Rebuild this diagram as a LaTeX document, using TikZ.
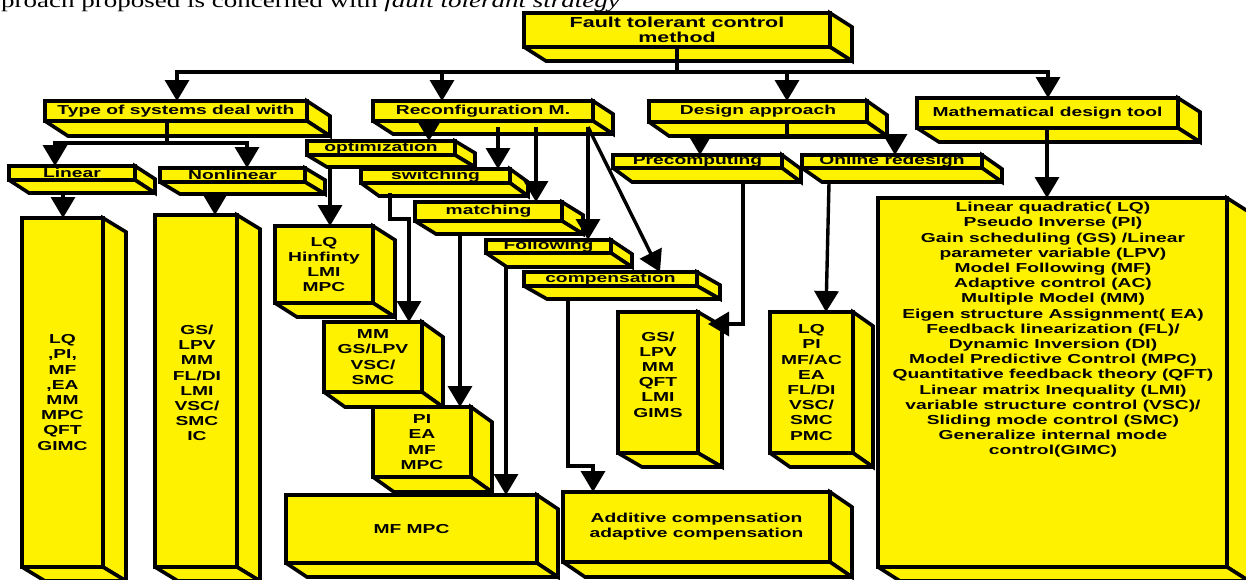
\documentclass[tikz,border=0pt]{standalone}
\usepackage{fontspec}
\usetikzlibrary{arrows.meta}
\newfontfamily\lblfont{Liberation Sans}[FakeStretch=1.48]
\newfontfamily\leadfont{Liberation Serif}[FakeStretch=1.35]
\newcommand\lbl{\lblfont\bfseries\fontsize{13}{15.2}\selectfont}
\newcommand\rootlbl{\lblfont\bfseries\fontsize{14.5}{17}\selectfont}

\tikzset{
  face/.style={draw=black, fill=yellow, line width=3.6pt, line join=miter, miter limit=3},
  front/.style={face, inner sep=0pt, outer sep=0pt, anchor=north west, align=center, font=\lbl},
  txt/.style={inner sep=0pt, align=center, font=\lbl},
  wire/.style={line width=3.4pt, line cap=rect},
  link/.style={line width=3.4pt, -{Triangle[width=24pt,length=21pt]}},
}

% slab: name, x, y, width, height, depth-x, depth-y, text
\newcommand\slab[8]{%
  \node[front, minimum width=#4pt, minimum height=#5pt] (#1) at (#2,#3) {#8};
  \draw[face] (#1.north east) -- ([shift={(#6,#7)}]#1.north east)
     -- ([shift={(#6,#7)}]#1.south east) -- (#1.south east) -- cycle;
  \draw[face] (#1.south west) -- (#1.south east)
     -- ([shift={(#6,#7)}]#1.south east) -- ([shift={(#6,#7)}]#1.south west) -- cycle;
}

\begin{document}
\begin{tikzpicture}[x=1pt,y=-1pt]
\useasboundingbox (0,0) rectangle (1246,579);

% running text line above the chart
\node[anchor=base west, inner sep=0pt, font=\leadfont\fontsize{20}{24}\selectfont] (lead)
  at (1,7.5) {proach proposed is concerned with \textit{fault tolerant strategy}};

% top level
\slab{ftc}{524}{13}{306}{34}{22}{14}{\rootlbl Fault tolerant control\\\rootlbl method}
\slab{types}{45}{101}{262}{20}{23}{15}{Type of systems deal with}
\slab{reconf}{373}{101}{220}{20}{20}{13}{Reconfiguration M.}
\slab{design}{649}{101}{218}{21}{20}{14}{Design approach}
\slab{math}{917}{98}{261}{30}{22}{14}{Mathematical design tool}

% second level
\slab{linear}{9}{166}{126}{14}{20}{13}{Linear}
\slab{nonlin}{160}{168}{145}{14}{20}{12}{Nonlinear}
\slab{optim}{307}{141}{148}{14}{20}{12}{optimization}
\slab{switch}{361}{169}{149}{14}{18}{13}{switching}
\slab{match}{415}{202}{147}{19}{21}{13}{matching}
\slab{follow}{486}{240}{125}{13}{21}{14}{Following}
\slab{comp}{524}{272}{173}{14}{23}{13}{compensation}
\slab{precomp}{613}{155}{169}{13}{19}{14}{Precomputing}
\slab{online}{802}{155}{180}{13}{20}{14}{Online redesign}

% method lists
\slab{linbig}{22}{218}{81}{349}{23}{14}{LQ\\,PI,\\MF\\,EA\\MM\\MPC\\QFT\\GIMC}
\slab{nonbig}{155}{215}{82}{352}{23}{14}{}
\node[txt] (nontext) at (197,383) {GS/\\LPV\\MM\\FL/DI\\LMI\\VSC/\\SMC\\IC};
\slab{lqh}{275}{226}{98}{77}{22}{14}{LQ\\Hinfinty\\LMI\\MPC}
\slab{mmb}{324}{322}{98}{70}{21}{15}{MM\\GS/LPV\\VSC/\\SMC}
\slab{pib}{373}{407}{98}{70}{21}{15}{PI\\EA\\MF\\MPC}
\slab{mfmpc}{286}{495}{251}{68}{21}{14}{MF MPC}
\slab{addc}{563}{492}{267}{70}{22}{15}{Additive compensation\\adaptive compensation}
\slab{gsb}{618}{312}{80}{141}{24}{14}{}
\node[txt] (gstext) at (658,374.5) {GS/\\LPV\\MM\\QFT\\LMI\\GIMS};
\slab{lqpi}{770}{312}{83}{141}{20}{14}{LQ\\PI\\MF/AC\\EA\\FL/DI\\VSC/\\SMC\\PMC}
\slab{toolb}{878}{198}{349}{369}{22}{14}{}
\node[txt, anchor=north] (tooltext) at (1053,202) {Linear quadratic( LQ)\\
  Pseudo Inverse (PI)\\
  Gain scheduling (GS) /Linear\\
  parameter variable (LPV)\\
  Model Following (MF)\\
  Adaptive control (AC)\\
  Multiple Model (MM)\\
  Eigen structure Assignment( EA)\\
  Feedback linearization (FL)/\\
  Dynamic Inversion (DI)\\
  Model Predictive Control (MPC)\\
  Quantitative feedback theory (QFT)\\
  Linear matrix Inequality (LMI)\\
  variable structure control (VSC)/\\
  Sliding mode control (SMC)\\
  Generalize internal mode\\
  control(GIMC)};

% trunk from the root
\coordinate (busL) at (177,72);
\coordinate (busR) at (1048,72);
\coordinate (busC) at (442,72);
\coordinate (busD) at (787,72);
\draw[wire] (ftc.south) -- (ftc.south |- busL);
\draw[wire] (busL) -- (busR);
\draw[link] (busL) -- (busL |- types.north);
\draw[link] (busC) -- (busC |- reconf.north);
\draw[link] (busD) -- (busD |- design.north);
\draw[link] (busR) -- (busR |- math.north);

% kinds of systems
\coordinate (tyJ) at (167,143);
\coordinate (tyL) at (55,143);
\coordinate (tyR) at (247,143);
\draw[wire] (tyJ |- types.south) -- (tyJ);
\draw[wire] (tyL) -- (tyR);
\draw[link] (tyL) -- (tyL |- linear.north);
\draw[link] (tyR) -- (tyR |- nonlin.north);
\coordinate (linOut) at (63,193);
\coordinate (nonOut) at (215,194);
\draw[link] (linOut) -- (linOut |- linbig.north);
\draw[link] (nonOut) -- (nonOut |- nonbig.north);

% reconfiguration mechanisms
\coordinate (rcA) at (429,121);
\coordinate (rcB) at (498,127);
\coordinate (rcC) at (536,127);
\coordinate (rcD) at (588,127);
\coordinate (compIn) at (660,272);
\draw[link] (rcA) -- (rcA |- optim.north);
\draw[link] (rcB) -- (rcB |- switch.north);
\draw[link] (rcC) -- (rcC |- match.north);
\draw[link] (rcD) -- (rcD |- follow.north);
\draw[link] (rcD) -- (compIn);

\coordinate (opOut) at (330,166);
\draw[link] (opOut) -- (opOut |- lqh.north);
\coordinate (swOut) at (390,193);
\coordinate (swBend) at (409,219);
\draw[link] (swOut) |- (swBend) -- (swBend |- mmb.north);
\coordinate (maOut) at (460,234);
\draw[link] (maOut) -- (maOut |- pib.north);
\coordinate (foOut) at (506,265);
\draw[link] (foOut) -- (foOut |- mfmpc.north);
\coordinate (coOut) at (568,297);
\coordinate (coBend) at (593,466);
\draw[link] (coOut) |- (coBend) -- (coBend |- addc.north);

% design approach
\coordinate (deJ) at (787,137);
\coordinate (deL) at (700,137);
\coordinate (deR) at (895,137);
\draw[wire] (deJ |- design.south) -- (deJ);
\draw[wire] (deL) -- (deR);
\draw[link] (deL) -- (deL |- precomp.north);
\draw[link] (deR) -- (deR |- online.north);
\coordinate (prOut) at (743,183);
\coordinate (prBend) at (743,324);
\coordinate (gsIn) at (708,324);
\draw[link] (prOut) -- (prBend) -- (gsIn);
\coordinate (onOut) at (829,183);
\coordinate (lqIn) at (826,312);
\draw[link] (onOut) -- (lqIn);

% mathematical tools
\coordinate (mtOut) at (1047,128);
\draw[link] (mtOut) -- (mtOut |- toolb.north);
\end{tikzpicture}
\end{document}
